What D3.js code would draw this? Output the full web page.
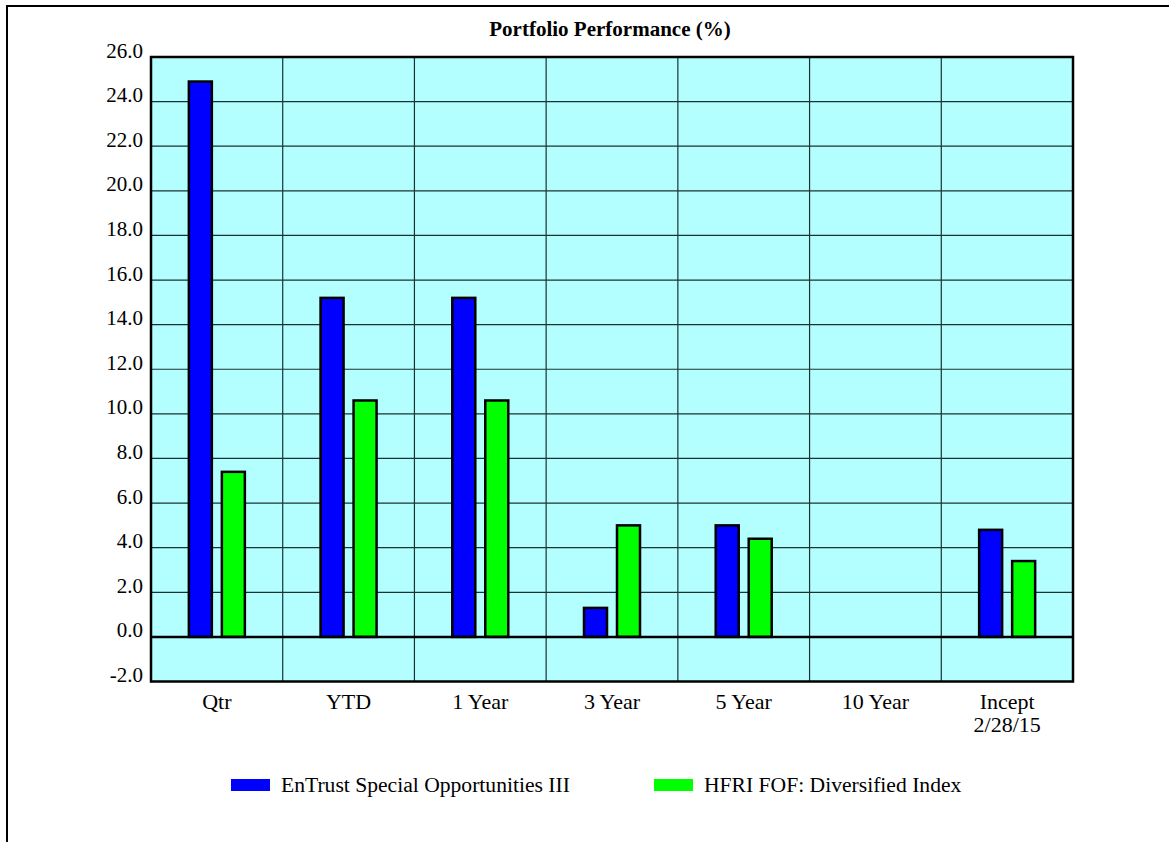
<!DOCTYPE html>
<html>
<head>
<meta charset="utf-8">
<script src="https://cdn.jsdelivr.net/npm/d3@7"></script>
<style>
  html, body { margin: 0; padding: 0; background: #fff; }
  svg { display: block; }
  text { font-family: "Liberation Serif", "Times New Roman", serif; fill: #000; }
</style>
</head>
<body>
<svg id="chart" width="1169" height="842"></svg>
<script>
// Periods and returns (%)
const categories = ["Qtr", "YTD", "1 Year", "3 Year", "5 Year", "10 Year", "Incept\n2/28/15"];
const fundValues  = [24.9, 15.2, 15.2, 1.3, 5.0, null, 4.8];
const indexValues = [7.4, 10.6, 10.6, 5.0, 4.4, null, 3.4];
const seriesNames = ["EnTrust Special Opportunities III", "HFRI FOF: Diversified Index"];
const seriesColors = ["#0000ff", "#00ff00"];
const yTicks = [-2, 0, 2, 4, 6, 8, 10, 12, 14, 16, 18, 20, 22, 24, 26];

const svg = d3.select("#chart");
const plot = { left: 151, right: 1073, top: 57, bottom: 681.5 };

// Page frame (top and left edges)
svg.append("path")
  .attr("d", `M7,842 V6 H1169`)
  .attr("fill", "none").attr("stroke", "#000").attr("stroke-width", 2);

// Title
svg.append("text")
  .attr("x", 610).attr("y", 36)
  .attr("text-anchor", "middle")
  .attr("font-weight", "bold")
  .attr("font-size", 21)
  .text("Portfolio Performance (%)");

const x = d3.scaleBand().domain(categories).range([plot.left, plot.right]);
const y = d3.scaleLinear().domain([-2, 26]).range([plot.bottom, plot.top]);

// Plot background
svg.append("rect")
  .attr("x", plot.left).attr("y", plot.top)
  .attr("width", plot.right - plot.left).attr("height", plot.bottom - plot.top)
  .attr("fill", "#b3ffff");

// Horizontal gridlines
svg.append("g").selectAll("line").data(yTicks.slice(1, -1)).join("line")
  .attr("x1", plot.left).attr("x2", plot.right)
  .attr("y1", d => y(d)).attr("y2", d => y(d))
  .attr("stroke", "#1a3333").attr("stroke-width", 1.2);

// Vertical separators between categories
svg.append("g").selectAll("line").data(categories.slice(1)).join("line")
  .attr("x1", d => x(d)).attr("x2", d => x(d))
  .attr("y1", plot.top).attr("y2", plot.bottom)
  .attr("stroke", "#1a3333").attr("stroke-width", 1.2);

// Y axis labels (baseline sits on the gridline)
const fmt = d => d3.format(".1f")(d).replace("\u2212", "-");
const yAxis = d3.axisLeft(y).tickValues(yTicks).tickFormat(fmt).tickSize(0).tickPadding(8);
const yg = svg.append("g").attr("transform", `translate(${plot.left},0)`).call(yAxis);
yg.select(".domain").remove();
yg.selectAll("text").attr("font-size", 21).attr("font-family", "Liberation Serif").attr("dy", "0");

// Bars
const bw = 23, gap = 10;
const offsets = [-(bw + gap / 2), gap / 2];
[fundValues, indexValues].forEach((vals, si) => {
  svg.append("g").selectAll("rect")
    .data(vals.map((v, i) => ({ v, c: categories[i] })).filter(d => d.v !== null))
    .join("rect")
    .attr("x", d => x(d.c) + x.bandwidth() / 2 + offsets[si])
    .attr("y", d => y(d.v))
    .attr("width", bw)
    .attr("height", d => y(0) - y(d.v))
    .attr("fill", seriesColors[si])
    .attr("stroke", "#000").attr("stroke-width", 2.5);
});

// Zero baseline
svg.append("line")
  .attr("x1", plot.left).attr("x2", plot.right)
  .attr("y1", y(0)).attr("y2", y(0))
  .attr("stroke", "#000").attr("stroke-width", 2.5);

// Plot frame
svg.append("rect")
  .attr("x", plot.left).attr("y", plot.top)
  .attr("width", plot.right - plot.left).attr("height", plot.bottom - plot.top)
  .attr("fill", "none").attr("stroke", "#000").attr("stroke-width", 2.5);

// X axis labels
const xl = svg.append("g").selectAll("text").data(categories).join("text")
  .attr("x", d => x(d) + x.bandwidth() / 2)
  .attr("y", 709)
  .attr("text-anchor", "middle")
  .attr("font-size", 22);
xl.each(function (d) {
  const lines = d.split("\n");
  d3.select(this).selectAll("tspan").data(lines).join("tspan")
    .attr("x", x(d) + x.bandwidth() / 2)
    .attr("dy", (l, i) => i === 0 ? 0 : 23)
    .text(l => l);
});

// Legend
const legendX = [231, 654];
seriesNames.forEach((name, i) => {
  svg.append("rect")
    .attr("x", legendX[i]).attr("y", 779)
    .attr("width", 39).attr("height", 12)
    .attr("fill", seriesColors[i]);
  svg.append("text")
    .attr("x", legendX[i] + 50).attr("y", 792)
    .attr("font-size", 21.6)
    .text(name);
});
</script>
</body>
</html>
